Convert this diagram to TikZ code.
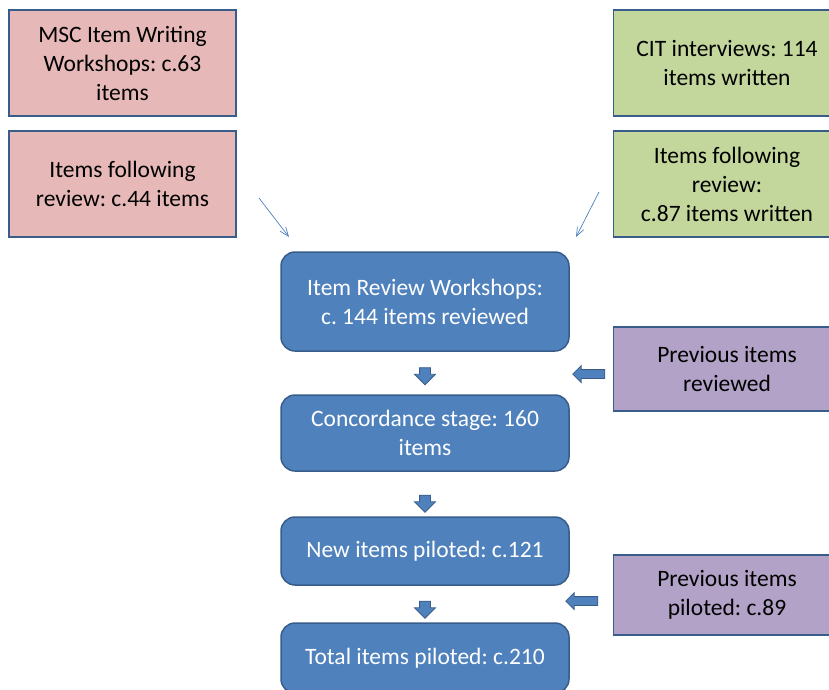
\documentclass[tikz,border=0pt]{standalone}
\usepackage{fontspec}
\setmainfont{Carlito}
\frenchspacing
\usetikzlibrary{shapes.arrows,arrows.meta}
\definecolor{pinkfill}{HTML}{E6B9B8}
\definecolor{greenfill}{HTML}{C3D69B}
\definecolor{purplefill}{HTML}{B2A2C7}
\definecolor{bluefill}{HTML}{4F81BD}
\definecolor{boxline}{HTML}{385D8A}
\tikzset{
  srcbox/.style={draw=boxline, line width=1.5pt, minimum width=227pt, align=center,
    font=\fontsize{23.5}{29}\selectfont, inner sep=0pt},
  stagebox/.style={draw=boxline, line width=1.5pt, fill=bluefill, rounded corners=14pt,
    minimum width=288pt, align=center, text=white, font=\fontsize{23.5}{29}\selectfont, inner sep=0pt},
  blkarrow/.style={single arrow, draw=boxline, fill=bluefill, line width=0.8pt,
    single arrow head extend=5pt, inner sep=5pt},
  thinarrow/.style={draw=bluefill, line width=0.7pt, -{Straight Barb[length=9pt,width=7pt]}}
}
\begin{document}
\begin{tikzpicture}[x=1pt,y=-1pt]
        \useasboundingbox (0,0) rectangle (829,689);
        \clip (0,0) rectangle (829,689);
        %%%%%%%%%%%%%%%%%%%%%%%% Fuentes de items %%%%%%%%%%%%%%%%%%%%%%%%%%%%%%%
        \node[srcbox, fill=pinkfill, minimum height=106pt] (msc) at (122.5,63) {MSC Item Writing\\Workshops: c.63\\items};
        \node[srcbox, fill=pinkfill, minimum height=106pt] (lrev) at (122.5,184) {Items following\\review: c.44 items};
        \node[srcbox, fill=greenfill, minimum height=106pt] (cit) at (727,63) {CIT interviews: 114\\items written};
        \node[srcbox, fill=greenfill, minimum height=106pt] (rrev) at (727,184) {Items following\\review:\\c.87 items written};
        %%%%%%%%%%%%%%%%%%%%%%%% Etapas %%%%%%%%%%%%%%%%%%%%%%%%%%%%%%%%%%%%%%%%%
        \node[stagebox, minimum height=99pt] (irw) at (425,301.5) {Item Review Workshops:\\c. 144 items reviewed};
        \node[stagebox, minimum height=76pt] (conc) at (425,433) {Concordance stage: 160\\items};
        \node[stagebox, minimum height=68pt] (newp) at (425,551) {New items piloted: c.121};
        \node[stagebox, minimum height=70pt] (tot) at (425,658) {Total items piloted: c.210};
        %%%%%%%%%%%%%%%%%%%%%%%% Items previos %%%%%%%%%%%%%%%%%%%%%%%%%%%%%%%%%%
        \node[srcbox, fill=purplefill, minimum height=84pt] (prevr) at (727,369) {Previous items\\reviewed};
        \node[srcbox, fill=purplefill, minimum height=80pt] (prevp) at (727,595) {Previous items\\piloted: c.89};
        %%%%%%%%%%%%%%%%%%%%%%%% Flechas %%%%%%%%%%%%%%%%%%%%%%%%%%%%%%%%%%%%%%%%
        \coordinate (lfrom) at (259,198); \coordinate (lto) at (289,237); %Flecha izquierda
        \coordinate (rfrom) at (599,192); \coordinate (rto) at (576,237); %Flecha derecha
        \draw[thinarrow] (lfrom) -- (lto);
        \draw[thinarrow] (rfrom) -- (rto);
        \node[blkarrow, minimum height=17pt, shape border rotate=270] (down1) at (425,373.5) {};
        \node[blkarrow, minimum height=17pt, shape border rotate=270] (down2) at (425,501) {};
        \node[blkarrow, minimum height=17pt, shape border rotate=270] (down3) at (425,607) {};
        \node[blkarrow, minimum height=32pt, inner sep=4pt, single arrow head extend=4pt, shape border rotate=180] (left1) at (591,374) {};
        \node[blkarrow, minimum height=32pt, inner sep=4pt, single arrow head extend=4pt, shape border rotate=180] (left2) at (584,601) {};
      \end{tikzpicture}
\end{document}
